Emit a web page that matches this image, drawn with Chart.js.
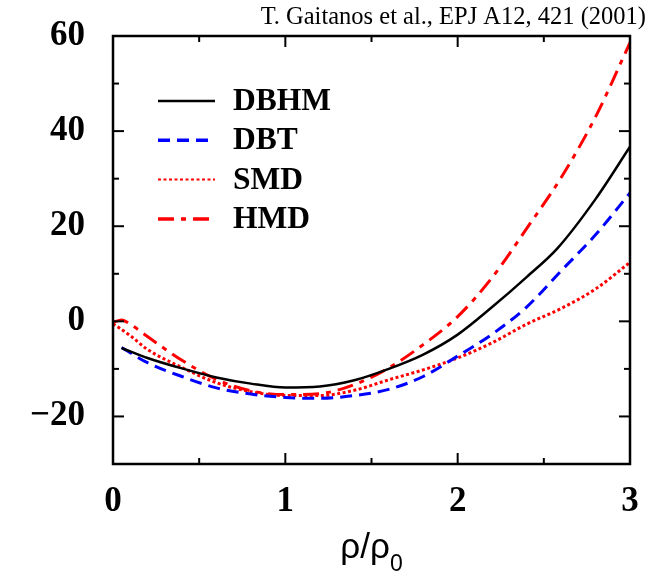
<!DOCTYPE html>
<html>
<head>
<meta charset="utf-8">
<title>EOS comparison</title>
<script src="https://cdn.jsdelivr.net/npm/chart.js@4.4.1/dist/chart.umd.min.js"></script>
<style>
  body { margin: 0; background: #fff; }
  .chart-wrapper { width: 651px; height: 577px; }
</style>
</head>
<body>
<div class="chart-wrapper">
  <canvas id="myChart" width="651" height="577"></canvas>
</div>

<script>
// values
const dbhmX = [0.05, 0.2, 0.4, 0.6, 0.8, 1.0, 1.2, 1.4, 1.6, 1.8, 2.0, 2.2, 2.4, 2.58, 2.8, 3.0];
const dbhmY = [-5.6, -7.7, -9.9, -11.8, -13.1, -13.9, -13.7, -12.4, -10.0, -7.0, -2.8, 3.0, 9.3, 15.4, 25.7, 36.7];

const dbtX = [0.05, 0.2, 0.4, 0.6, 0.8, 1.0, 1.2, 1.4, 1.6, 1.8, 2.0, 2.2, 2.4, 2.6, 2.8, 3.0];
const dbtY = [-5.5, -8.7, -11.6, -14.0, -15.3, -16.0, -16.2, -15.6, -14.3, -11.6, -7.3, -2.7, 3.0, 10.6, 18.2, 27.0];

const smdX = [0.0, 0.1, 0.2, 0.4, 0.6, 0.8, 1.0, 1.2, 1.4, 1.6, 1.8, 2.0, 2.2, 2.4, 2.6, 2.8, 3.0];
const smdY = [-0.5, -3.0, -5.9, -9.7, -12.9, -14.8, -15.6, -15.6, -14.5, -12.3, -10.2, -7.7, -4.5, -0.6, 2.7, 6.8, 12.4];

const hmdX = [0.0, 0.05, 0.1, 0.2, 0.4, 0.6, 0.8, 1.0, 1.2, 1.4, 1.6, 1.8, 2.0, 2.2, 2.4, 2.6, 2.8, 3.0];
const hmdY = [-0.2, 0.3, -0.6, -3.2, -8.2, -12.2, -14.6, -15.4, -15.2, -13.3, -9.8, -4.9, 1.0, 9.2, 19.5, 30.2, 43.0, 58.6];

const xTicks = [0, 1, 2, 3];
const xMinor = [0.5, 1.5, 2.5];
const yTicks = [-20, 0, 20, 40, 60];
const yMinor = [-10, 10, 30, 50];

const citation = 'T. Gaitanos et al., EPJ A12, 421 (2001)';

function pts(xs, ys) {
  return xs.map((x, i) => ({ x: x, y: ys[i] }));
}

// frame with inward ticks on all four sides
const framePlugin = {
  id: 'frame',
  afterDatasetsDraw(chart) {
    const ctx = chart.ctx;
    const a = chart.chartArea;
    const xs = chart.scales.x, ys = chart.scales.y;
    ctx.save();
    ctx.strokeStyle = '#000';
    ctx.lineWidth = 2.5;
    ctx.strokeRect(a.left, a.top, a.right - a.left, a.bottom - a.top);
    ctx.lineWidth = 2;
    function tick(x1, y1, x2, y2) {
      ctx.beginPath(); ctx.moveTo(x1, y1); ctx.lineTo(x2, y2); ctx.stroke();
    }
    xTicks.concat(xMinor).forEach(v => {
      const len = xMinor.includes(v) ? 6 : 11;
      const px = xs.getPixelForValue(v);
      tick(px, a.bottom, px, a.bottom - len);
      tick(px, a.top, px, a.top + len);
    });
    yTicks.concat(yMinor).forEach(v => {
      const len = yMinor.includes(v) ? 6 : 11;
      const py = ys.getPixelForValue(v);
      tick(a.left, py, a.left + len, py);
      tick(a.right, py, a.right - len, py);
    });
    ctx.restore();
  }
};

// legend inside the plot and the other texts
const textPlugin = {
  id: 'texts',
  afterDraw(chart) {
    const ctx = chart.ctx;
    const a = chart.chartArea;
    ctx.save();
    chart.data.datasets.forEach((ds, i) => {
      const y = a.top + 65 + i * 39.3;
      ctx.strokeStyle = ds.borderColor;
      ctx.lineWidth = ds.legendWidth;
      ctx.setLineDash(ds.borderDash || []);
      ctx.beginPath();
      ctx.moveTo(a.left + 45, y);
      ctx.lineTo(a.left + 102, y);
      ctx.stroke();
      ctx.setLineDash([]);
      ctx.fillStyle = '#000';
      ctx.font = 'bold 31.5px "Liberation Serif"';
      ctx.textAlign = 'left';
      ctx.textBaseline = 'middle';
      ctx.fillText(ds.label, a.left + 120, y + 1);
    });

    ctx.font = '24.5px "Liberation Serif"';
    ctx.textAlign = 'right';
    ctx.textBaseline = 'alphabetic';
    ctx.fillText(citation, 646, 24);

    // axis title rho/rho_0
    ctx.textAlign = 'left';
    ctx.font = '35px "Liberation Sans"';
    const main = 'ρ/ρ';
    const w = ctx.measureText(main).width;
    ctx.font = '23px "Liberation Sans"';
    const w0 = ctx.measureText('0').width;
    const x0 = (a.left + a.right) / 2 - (w + w0) / 2;
    ctx.font = '35px "Liberation Sans"';
    ctx.fillText(main, x0, 558);
    ctx.font = '23px "Liberation Sans"';
    ctx.fillText('0', x0 + w, 571);
    ctx.restore();
  }
};

const ctx = document.getElementById('myChart');

const myChart = new Chart(ctx, {
  type: 'scatter',
  data: {
    datasets: [
      { label: 'DBHM', data: pts(dbhmX, dbhmY), borderColor: '#000000', borderWidth: 2.5, legendWidth: 2.5 },
      { label: 'DBT', data: pts(dbtX, dbtY), borderColor: '#0000ff', borderWidth: 3, borderDash: [12, 7], legendWidth: 3.5 },
      { label: 'SMD', data: pts(smdX, smdY), borderColor: '#ff0000', borderWidth: 3, borderDash: [3, 2.5], legendWidth: 2 },
      { label: 'HMD', data: pts(hmdX, hmdY), borderColor: '#ff0000', borderWidth: 3, borderDash: [16, 7, 5, 7], legendWidth: 3.5 }
    ]
  },
  options: {
    responsive: false,
    animation: false,
    showLine: true,
    layout: { padding: { top: 36, right: 21, left: 0, bottom: 0 } },
    elements: {
      point: { radius: 0, hoverRadius: 0 },
      line: { fill: false, cubicInterpolationMode: 'monotone' }
    },
    plugins: {
      legend: { display: false },
      tooltip: { enabled: false }
    },
    scales: {
      x: {
        type: 'linear',
        min: 0,
        max: 3,
        grid: { display: false, drawTicks: false },
        border: { display: false },
        afterBuildTicks: s => { s.ticks = xTicks.map(v => ({ value: v })); },
        afterFit: s => { s.height = 113; s.paddingLeft = 0; s.paddingRight = 0; },
        ticks: {
          color: '#000',
          padding: 17,
          maxRotation: 0,
          font: { family: '"Liberation Serif"', weight: 'bold', size: 35 }
        }
      },
      y: {
        type: 'linear',
        min: -30,
        max: 60,
        grid: { display: false, drawTicks: false },
        border: { display: false },
        afterBuildTicks: s => { s.ticks = yTicks.map(v => ({ value: v })); },
        afterFit: s => { s.width = 113; s.paddingTop = 0; s.paddingBottom = 0; },
        ticks: {
          color: '#000',
          padding: 28,
          font: { family: '"Liberation Serif"', weight: 'bold', size: 35 },
          callback: v => (v < 0 ? '\u2212' + Math.abs(v) : String(v))
        }
      }
    }
  },
  plugins: [framePlugin, textPlugin]
});
</script>
</body>
</html>
